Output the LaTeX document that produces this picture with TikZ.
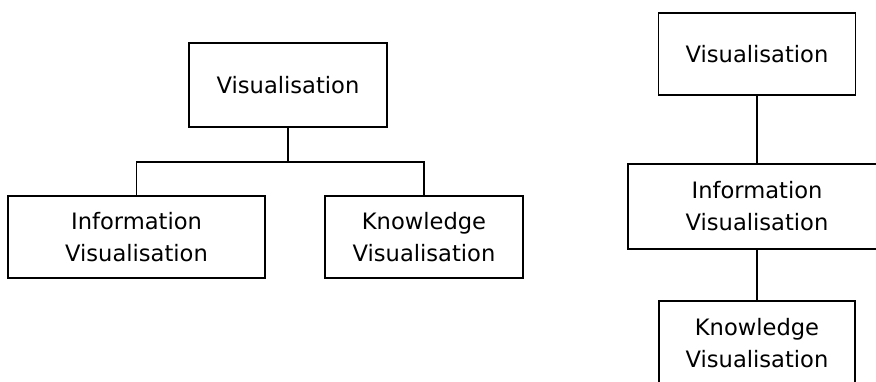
\documentclass[tikz,border=0pt]{standalone}
\usepackage{fontspec}
\setmainfont{DejaVu Sans}
\begin{document}
\begin{tikzpicture}[x=1pt,y=-1pt,
  box/.style={draw, line width=1.8pt, inner sep=0pt, align=center, font=\fontsize{22.6}{32}\selectfont},
  link/.style={line width=1.8pt}]
\useasboundingbox (0,0) rectangle (876,382);
\fill[white] (0,0) rectangle (876,382);
\clip (0,0) rectangle (876,382);
% left tree
\node[box, minimum width=198pt, minimum height=84pt] (v1) at (288,85) {Visualisation};
\node[box, minimum width=257pt, minimum height=82pt] (i1) at (136.5,237) {Information\\Visualisation};
\node[box, minimum width=198pt, minimum height=82pt] (k1) at (424,237) {Knowledge\\Visualisation};
\coordinate (jl) at (288,162);
\draw[link] (v1.south) -- (jl);
\draw[link] (i1.north) |- (jl) -| (k1.north);
% right chain
\node[box, minimum width=197pt, minimum height=82pt] (v2) at (757,54) {Visualisation};
\node[box, minimum width=258pt, minimum height=85pt] (i2) at (757,206.5) {Information\\Visualisation};
\node[box, minimum width=196pt, minimum height=84pt] (k2) at (757,343) {Knowledge\\Visualisation};
\draw[link] (v2.south) -- (i2.north);
\draw[link] (i2.south) -- (k2.north);
\end{tikzpicture}
\end{document}
